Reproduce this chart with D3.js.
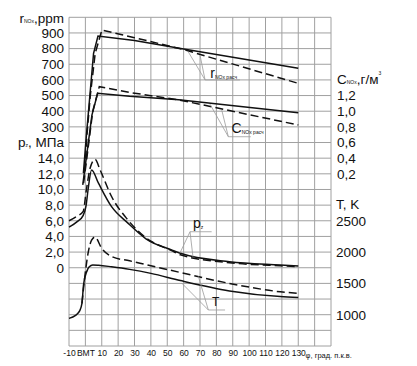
<!DOCTYPE html>
<html>
<head>
<meta charset="utf-8">
<script src="https://cdn.jsdelivr.net/npm/d3@7/dist/d3.min.js"></script>
<style>
  body { margin: 0; background: #fff; }
  text { font-family: "Liberation Sans", Arial, sans-serif; fill: #111; }
</style>
</head>
<body>
<svg id="chart" width="417" height="366"></svg>
<script>
// crank angle ticks, deg
const xTickValues = [-10, 0, 10, 20, 30, 40, 50, 60, 70, 80, 90, 100, 110, 120, 130];
const xTickLabels = ['-10', 'ВМТ', '10', '20', '30', '40', '50', '60', '70', '80', '90', '100', '110', '120', '130'];
const rTicks = [300, 400, 500, 600, 700, 800, 900];        // r NOx, ppm
const pTicks = [0, 2, 4, 6, 8, 10, 12, 14];                 // pz, MPa
const cTicks = [0.2, 0.4, 0.6, 0.8, 1.0, 1.2];              // C NOx, g/m3
const tTicks = [1000, 1500, 2000, 2500];                    // T, K

// [angle, value]; solid = one variant, dashed = the other
const rSolid  = [[-1.2, 5], [0.5, 230], [2, 410], [5, 770], [7.7, 880], [30, 852], [60, 798], [130, 674]];
const rDashed = [[-0.4, 20], [1, 250], [3, 500], [6, 770], [10.1, 919], [30, 870], [60, 794], [130, 578]];
const cSolid  = [[-1.6, 0.06], [1.5, 0.55], [4, 0.95], [7.5, 1.23], [27, 1.19], [57, 1.145], [130, 0.98]];
const cDashed = [[-1.1, 0.08], [1.5, 0.5], [4.5, 1.0], [8.5, 1.314], [27, 1.24], [57, 1.145], [130, 0.824]];
const pSolid  = [[-10, 5.2], [-5, 5.9], [-1.3, 6.7], [0.4, 7.9], [1.6, 9.9], [3.8, 12.5], [8, 10.8], [16, 7.8],
                 [26, 5.7], [37, 3.7], [53, 2.25], [58, 1.85], [88, 0.77], [119, 0.35], [130, 0.22]];
const pDashed = [[-10, 6.0], [-5, 6.6], [-1.3, 7.2], [0.5, 9.8], [3, 12.8], [5.9, 13.85], [9, 12.5], [16, 9.1],
                 [26, 6.1], [36.5, 3.9], [53, 2.15], [58, 1.65], [88, 0.64], [119, 0.25], [130, 0.15]];
const tSolid  = [[-10, 941], [-6, 990], [-3.5, 1060], [-2.1, 1180], [-1.1, 1480], [1, 1700], [2.4, 1765], [4.5, 1795],
                 [8, 1790], [16, 1765], [27, 1724], [40, 1660], [58, 1545], [88, 1380], [119, 1290], [130, 1276]];
const tDashed = [[-2.1, 1180], [-1, 1450], [0.4, 1765], [2, 2030], [3.8, 2190], [5.8, 2240], [10, 2060], [16, 1930],
                 [27, 1860], [37, 1800], [57, 1680], [88, 1500], [119, 1366], [130, 1340]];

const svg = d3.select('#chart');
const x = d3.scaleLinear().domain([-10, 150]).range([69, 331]);
const row = d3.scaleLinear().domain([0, 21]).range([17.3, 346]);   // grid rows
const yR = d3.scaleLinear().domain([0, 900]).range([row(10), row(1)]);
const yC = d3.scaleLinear().domain([0, 1.2]).range([row(11), row(5)]);
const yP = d3.scaleLinear().domain([0, 14]).range([row(16), row(9)]);
const yT = d3.scaleLinear().domain([1000, 2500]).range([row(19), row(13)]);
const comma = d => d === 0 ? '0' : d.toFixed(1).replace('.', ',');

// grid
const grid = svg.append('g').attr('stroke', '#a0a0a0').attr('stroke-width', 1);
grid.selectAll('.v').data(d3.range(-10, 151, 10)).enter().append('line')
  .attr('x1', d => x(d)).attr('x2', d => x(d)).attr('y1', row(0)).attr('y2', row(21));
grid.selectAll('.h').data(d3.range(0, 22)).enter().append('line')
  .attr('x1', x(-10)).attr('x2', x(150)).attr('y1', d => row(d)).attr('y2', d => row(d));

// axes
function axis(gen, tx, fmt, vals, fs) {
  const g = svg.append('g').attr('transform', `translate(${tx},0)`)
    .call(gen.tickValues(vals).tickSize(0).tickPadding(0).tickFormat(fmt));
  g.select('.domain').remove();
  g.attr('font-family', null).attr('font-size', null);
  g.selectAll('text').style('font-size', fs + 'px');
  return g;
}
axis(d3.axisLeft(yR), 64, d3.format('d'), rTicks, 13.5);
axis(d3.axisLeft(yP), 64, comma, pTicks, 13.5);
axis(d3.axisRight(yC), 337, comma, cTicks, 13.5);
axis(d3.axisRight(yT), 336, d3.format('d'), tTicks, 13.5);

const xa = svg.append('g').attr('transform', `translate(0,${row(21) + 4})`)
  .call(d3.axisBottom(x).tickValues(xTickValues).tickSize(0).tickPadding(0)
    .tickFormat((d, i) => xTickLabels[i]));
xa.select('.domain').remove();
xa.attr('font-family', null).attr('font-size', null);
xa.selectAll('text').style('font-size', '8.5px');
svg.append('text').attr('x', x(134.5)).attr('y', row(21) + 11.5)
  .style('font-size', '7.5px').text('φ, град. п.к.в.');

// axis titles
function title(xp, yp, anchor, parts) {
  const t = svg.append('text').attr('x', xp).attr('y', yp).attr('text-anchor', anchor)
    .attr('dominant-baseline', 'middle').style('font-size', '13.5px');
  parts.forEach(p => {
    const s = t.append('tspan').text(p.s);
    if (p.sub) s.style('font-size', '5px').attr('dy', 3);
    if (p.sup) s.style('font-size', '5px').attr('dy', -6);
    if (p.back) s.attr('dy', p.back);
  });
}
title(64, row(0) + 2, 'end', [{s: 'r'}, {s: 'NOx', sub: true}, {s: ',ppm', back: -3}]);
title(64, row(8), 'end', [{s: 'p'}, {s: 'z', sub: true}, {s: ', МПа', back: -3}]);
title(337, row(4), 'start', [{s: 'C'}, {s: 'NOx', sub: true}, {s: ',г/м', back: -3}, {s: '3', sup: true}]);
title(336, row(12), 'start', [{s: 'T, K'}]);

// curves
const lineOf = (ys, curve) => d3.line().x(d => x(d[0])).y(d => ys(d[1])).curve(curve);
const series = [
  {data: rSolid, y: yR, dash: null, curve: d3.curveLinear},
  {data: rDashed, y: yR, dash: '8,4', curve: d3.curveLinear},
  {data: cSolid, y: yC, dash: null, curve: d3.curveLinear},
  {data: cDashed, y: yC, dash: '8,4', curve: d3.curveLinear},
  {data: pSolid, y: yP, dash: null, curve: d3.curveMonotoneX},
  {data: pDashed, y: yP, dash: '8,4', curve: d3.curveMonotoneX},
  {data: tSolid, y: yT, dash: null, curve: d3.curveMonotoneX},
  {data: tDashed, y: yT, dash: '8,4', curve: d3.curveMonotoneX}
];
svg.append('g').selectAll('path').data(series).enter().append('path')
  .attr('d', s => lineOf(s.y, s.curve)(s.data))
  .attr('fill', 'none').attr('stroke', '#111').attr('stroke-width', 1.5)
  .attr('stroke-dasharray', s => s.dash);

// curve labels with leader lines (angle, grid row)
const notes = [
  {parts: [{s: 'r'}, {s: 'NOx расч', sub: true}], at: [76.3, 3.85], fs: 14,
   legs: [[[62.8, 2.2], [73.1, 4.0]], [[70, 2.41], [73.1, 4.0]], [[73.1, 4.0], [94.4, 4.0]]]},
  {parts: [{s: 'C'}, {s: 'NOx расч', sub: true}], at: [89.3, 7.4], fs: 14,
   legs: [[[76.1, 5.55], [87.3, 7.63]], [[83.3, 5.93], [87.3, 7.63]], [[87.3, 7.63], [101, 7.63]]]},
  {parts: [{s: 'p'}, {s: 'z', sub: true}], at: [65.7, 13.45], fs: 14,
   legs: [[[57.8, 15.05], [63.9, 13.7]], [[65.7, 15.3], [63.9, 13.7]], [[63.9, 13.7], [77.1, 13.7]]]},
  {parts: [{s: 'T'}], at: [77.3, 18.45], fs: 12,
   legs: [[[58.8, 16.98], [75.1, 18.7]], [[69, 16.55], [75.1, 18.7]], [[75.1, 18.7], [85.3, 18.7]]]}
];
notes.forEach(n => {
  n.legs.forEach(l => svg.append('line')
    .attr('x1', x(l[0][0])).attr('y1', row(l[0][1])).attr('x2', x(l[1][0])).attr('y2', row(l[1][1]))
    .attr('stroke', '#9a9a9a').attr('stroke-width', 0.8));
  const t = svg.append('text').attr('x', x(n.at[0])).attr('y', row(n.at[1])).style('font-size', n.fs + 'px');
  n.parts.forEach(p => {
    const s = t.append('tspan').text(p.s);
    if (p.sub) s.style('font-size', '5px').attr('dy', 1);
  });
});
</script>
</body>
</html>
